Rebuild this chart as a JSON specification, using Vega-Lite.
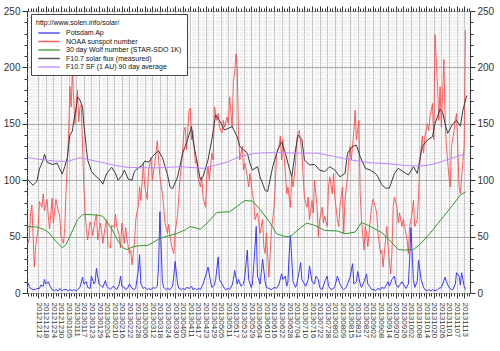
{
"$schema": "https://vega.github.io/schema/vega-lite/v6.json",
"width": 443, "height": 282,
"autosize": "none",
"padding": {"left": 27, "top": 11, "right": 30, "bottom": 58},
"background": "white",
"config": {"view": {"stroke": "#333", "strokeWidth": 1}, "font": "Liberation Sans", "axis": {"tickColor": "#333", "labelColor": "#333", "title": null, "domain": false}},
"datasets": {
"ap": [{"d":0,"v":9},{"d":1,"v":6},{"d":2,"v":4},{"d":4,"v":3},{"d":6,"v":3},{"d":7,"v":4},{"d":9,"v":4},{"d":10,"v":7},{"d":12,"v":6},{"d":13,"v":12},{"d":14,"v":8},{"d":16,"v":10},{"d":17,"v":7},{"d":19,"v":3},{"d":21,"v":2},{"d":22,"v":3},{"d":24,"v":2},{"d":25,"v":4},{"d":27,"v":2},{"d":28,"v":3},{"d":30,"v":3},{"d":32,"v":2},{"d":33,"v":3},{"d":35,"v":2},{"d":36,"v":3},{"d":38,"v":2},{"d":39,"v":3},{"d":41,"v":5},{"d":43,"v":14},{"d":44,"v":8},{"d":46,"v":10},{"d":47,"v":5},{"d":49,"v":4},{"d":50,"v":15},{"d":52,"v":8},{"d":53,"v":10},{"d":54,"v":22},{"d":56,"v":8},{"d":58,"v":6},{"d":59,"v":5},{"d":61,"v":11},{"d":62,"v":6},{"d":64,"v":4},{"d":65,"v":3},{"d":67,"v":6},{"d":69,"v":4},{"d":70,"v":3},{"d":72,"v":8},{"d":73,"v":15},{"d":74,"v":6},{"d":76,"v":5},{"d":77,"v":3},{"d":79,"v":5},{"d":80,"v":8},{"d":82,"v":4},{"d":84,"v":3},{"d":85,"v":5},{"d":87,"v":20},{"d":88,"v":34},{"d":89,"v":8},{"d":91,"v":4},{"d":92,"v":5},{"d":94,"v":3},{"d":95,"v":4},{"d":97,"v":3},{"d":99,"v":5},{"d":100,"v":4},{"d":102,"v":6},{"d":103,"v":25},{"d":104,"v":72},{"d":106,"v":10},{"d":107,"v":5},{"d":109,"v":3},{"d":110,"v":4},{"d":112,"v":3},{"d":114,"v":6},{"d":115,"v":15},{"d":116,"v":28},{"d":118,"v":8},{"d":119,"v":4},{"d":121,"v":3},{"d":122,"v":4},{"d":124,"v":3},{"d":125,"v":5},{"d":127,"v":4},{"d":129,"v":6},{"d":130,"v":3},{"d":132,"v":4},{"d":133,"v":3},{"d":135,"v":4},{"d":136,"v":3},{"d":138,"v":8},{"d":140,"v":15},{"d":142,"v":23},{"d":144,"v":10},{"d":145,"v":5},{"d":147,"v":7},{"d":148,"v":12},{"d":150,"v":32},{"d":151,"v":12},{"d":153,"v":8},{"d":155,"v":4},{"d":156,"v":3},{"d":158,"v":4},{"d":159,"v":3},{"d":161,"v":7},{"d":162,"v":12},{"d":163,"v":20},{"d":165,"v":8},{"d":166,"v":12},{"d":168,"v":6},{"d":170,"v":8},{"d":171,"v":15},{"d":173,"v":38},{"d":174,"v":12},{"d":176,"v":5},{"d":177,"v":8},{"d":179,"v":40},{"d":180,"v":59},{"d":181,"v":15},{"d":183,"v":8},{"d":184,"v":18},{"d":185,"v":30},{"d":187,"v":10},{"d":188,"v":5},{"d":190,"v":4},{"d":192,"v":3},{"d":193,"v":4},{"d":195,"v":5},{"d":196,"v":4},{"d":198,"v":8},{"d":200,"v":17},{"d":201,"v":12},{"d":203,"v":15},{"d":204,"v":6},{"d":205,"v":10},{"d":206,"v":35},{"d":207,"v":51},{"d":209,"v":10},{"d":211,"v":5},{"d":212,"v":8},{"d":214,"v":20},{"d":215,"v":27},{"d":216,"v":12},{"d":218,"v":8},{"d":219,"v":6},{"d":221,"v":12},{"d":222,"v":24},{"d":224,"v":10},{"d":226,"v":8},{"d":227,"v":15},{"d":229,"v":12},{"d":230,"v":5},{"d":232,"v":3},{"d":234,"v":10},{"d":236,"v":15},{"d":237,"v":6},{"d":239,"v":3},{"d":241,"v":4},{"d":242,"v":6},{"d":243,"v":10},{"d":244,"v":15},{"d":246,"v":8},{"d":248,"v":4},{"d":249,"v":3},{"d":251,"v":5},{"d":252,"v":8},{"d":254,"v":14},{"d":256,"v":26},{"d":257,"v":8},{"d":259,"v":10},{"d":260,"v":19},{"d":262,"v":8},{"d":263,"v":5},{"d":265,"v":10},{"d":267,"v":17},{"d":268,"v":8},{"d":270,"v":5},{"d":271,"v":3},{"d":273,"v":3},{"d":274,"v":2},{"d":276,"v":4},{"d":278,"v":3},{"d":279,"v":5},{"d":281,"v":4},{"d":282,"v":6},{"d":284,"v":10},{"d":285,"v":6},{"d":287,"v":12},{"d":289,"v":15},{"d":290,"v":8},{"d":292,"v":5},{"d":293,"v":7},{"d":295,"v":10},{"d":297,"v":6},{"d":298,"v":4},{"d":300,"v":8},{"d":301,"v":30},{"d":302,"v":58},{"d":304,"v":12},{"d":305,"v":5},{"d":307,"v":10},{"d":308,"v":29},{"d":310,"v":12},{"d":312,"v":5},{"d":313,"v":3},{"d":315,"v":2},{"d":316,"v":3},{"d":318,"v":2},{"d":319,"v":3},{"d":321,"v":2},{"d":323,"v":3},{"d":324,"v":4},{"d":326,"v":5},{"d":327,"v":8},{"d":329,"v":14},{"d":330,"v":10},{"d":332,"v":5},{"d":334,"v":3},{"d":335,"v":3},{"d":337,"v":8},{"d":338,"v":18},{"d":340,"v":15},{"d":341,"v":7},{"d":342,"v":18},{"d":344,"v":6},{"d":345,"v":3}],
"ssn": [{"d":0,"v":44},{"d":1,"v":48},{"d":2,"v":70},{"d":3,"v":78},{"d":5,"v":23},{"d":6,"v":41},{"d":8,"v":57},{"d":9,"v":81},{"d":11,"v":76},{"d":12,"v":88},{"d":13,"v":73},{"d":15,"v":83},{"d":16,"v":68},{"d":17,"v":57},{"d":19,"v":84},{"d":20,"v":62},{"d":22,"v":83},{"d":24,"v":72},{"d":25,"v":69},{"d":26,"v":50},{"d":28,"v":44},{"d":29,"v":58},{"d":30,"v":90},{"d":31,"v":115},{"d":32,"v":140},{"d":33,"v":183},{"d":34,"v":165},{"d":35,"v":196},{"d":37,"v":150},{"d":39,"v":180},{"d":40,"v":152},{"d":41,"v":165},{"d":42,"v":167},{"d":43,"v":130},{"d":44,"v":95},{"d":45,"v":70},{"d":46,"v":58},{"d":47,"v":47},{"d":49,"v":63},{"d":50,"v":59},{"d":51,"v":51},{"d":53,"v":65},{"d":54,"v":70},{"d":55,"v":47},{"d":57,"v":62},{"d":58,"v":55},{"d":59,"v":44},{"d":61,"v":60},{"d":62,"v":65},{"d":63,"v":42},{"d":65,"v":40},{"d":66,"v":60},{"d":68,"v":58},{"d":69,"v":70},{"d":70,"v":59},{"d":72,"v":50},{"d":73,"v":40},{"d":74,"v":62},{"d":76,"v":44},{"d":77,"v":58},{"d":78,"v":48},{"d":80,"v":35},{"d":81,"v":38},{"d":82,"v":25},{"d":84,"v":45},{"d":85,"v":65},{"d":86,"v":72},{"d":87,"v":77},{"d":88,"v":94},{"d":89,"v":82},{"d":91,"v":115},{"d":92,"v":95},{"d":94,"v":83},{"d":95,"v":108},{"d":97,"v":120},{"d":98,"v":100},{"d":100,"v":115},{"d":102,"v":135},{"d":103,"v":118},{"d":104,"v":103},{"d":106,"v":88},{"d":107,"v":76},{"d":108,"v":62},{"d":110,"v":53},{"d":111,"v":61},{"d":112,"v":50},{"d":114,"v":38},{"d":115,"v":35},{"d":116,"v":53},{"d":118,"v":70},{"d":119,"v":88},{"d":120,"v":103},{"d":121,"v":112},{"d":123,"v":144},{"d":124,"v":147},{"d":125,"v":127},{"d":127,"v":162},{"d":128,"v":164},{"d":129,"v":136},{"d":130,"v":144},{"d":132,"v":115},{"d":133,"v":118},{"d":134,"v":103},{"d":136,"v":94},{"d":137,"v":103},{"d":138,"v":85},{"d":140,"v":76},{"d":141,"v":103},{"d":142,"v":112},{"d":143,"v":100},{"d":145,"v":124},{"d":146,"v":118},{"d":147,"v":165},{"d":149,"v":153},{"d":150,"v":159},{"d":151,"v":147},{"d":153,"v":142},{"d":154,"v":153},{"d":155,"v":147},{"d":157,"v":156},{"d":158,"v":150},{"d":159,"v":174},{"d":161,"v":147},{"d":162,"v":189},{"d":163,"v":195},{"d":164,"v":212},{"d":165,"v":200},{"d":166,"v":144},{"d":167,"v":118},{"d":169,"v":130},{"d":170,"v":109},{"d":171,"v":115},{"d":173,"v":103},{"d":174,"v":94},{"d":175,"v":106},{"d":177,"v":88},{"d":178,"v":82},{"d":179,"v":65},{"d":181,"v":71},{"d":182,"v":62},{"d":183,"v":53},{"d":185,"v":65},{"d":186,"v":41},{"d":187,"v":35},{"d":188,"v":53},{"d":190,"v":14},{"d":191,"v":35},{"d":192,"v":55},{"d":194,"v":76},{"d":195,"v":94},{"d":196,"v":124},{"d":198,"v":130},{"d":199,"v":139},{"d":200,"v":118},{"d":201,"v":136},{"d":203,"v":106},{"d":204,"v":88},{"d":205,"v":94},{"d":207,"v":76},{"d":208,"v":103},{"d":209,"v":94},{"d":211,"v":115},{"d":212,"v":136},{"d":213,"v":142},{"d":214,"v":144},{"d":216,"v":124},{"d":217,"v":103},{"d":218,"v":85},{"d":220,"v":76},{"d":221,"v":85},{"d":222,"v":65},{"d":224,"v":82},{"d":225,"v":71},{"d":226,"v":100},{"d":228,"v":76},{"d":229,"v":50},{"d":230,"v":65},{"d":232,"v":76},{"d":233,"v":62},{"d":234,"v":68},{"d":236,"v":59},{"d":237,"v":94},{"d":238,"v":103},{"d":240,"v":88},{"d":241,"v":106},{"d":242,"v":85},{"d":244,"v":65},{"d":245,"v":59},{"d":246,"v":76},{"d":248,"v":94},{"d":249,"v":53},{"d":250,"v":82},{"d":252,"v":103},{"d":253,"v":118},{"d":254,"v":130},{"d":255,"v":118},{"d":257,"v":144},{"d":258,"v":162},{"d":259,"v":136},{"d":261,"v":153},{"d":262,"v":88},{"d":263,"v":65},{"d":265,"v":38},{"d":266,"v":59},{"d":267,"v":53},{"d":268,"v":41},{"d":270,"v":65},{"d":271,"v":76},{"d":272,"v":83},{"d":274,"v":76},{"d":275,"v":71},{"d":276,"v":53},{"d":278,"v":35},{"d":279,"v":38},{"d":280,"v":23},{"d":282,"v":47},{"d":283,"v":59},{"d":284,"v":41},{"d":286,"v":17},{"d":287,"v":35},{"d":288,"v":76},{"d":289,"v":85},{"d":291,"v":76},{"d":292,"v":62},{"d":293,"v":71},{"d":295,"v":59},{"d":296,"v":65},{"d":297,"v":59},{"d":299,"v":47},{"d":300,"v":35},{"d":301,"v":59},{"d":303,"v":71},{"d":304,"v":82},{"d":305,"v":59},{"d":307,"v":65},{"d":308,"v":85},{"d":309,"v":115},{"d":311,"v":139},{"d":312,"v":124},{"d":313,"v":139},{"d":315,"v":150},{"d":316,"v":144},{"d":317,"v":156},{"d":319,"v":168},{"d":320,"v":136},{"d":321,"v":229},{"d":323,"v":183},{"d":324,"v":153},{"d":325,"v":183},{"d":326,"v":147},{"d":328,"v":207},{"d":329,"v":153},{"d":330,"v":130},{"d":332,"v":103},{"d":333,"v":94},{"d":334,"v":130},{"d":336,"v":144},{"d":337,"v":153},{"d":338,"v":159},{"d":340,"v":94},{"d":341,"v":88},{"d":342,"v":103},{"d":344,"v":130},{"d":345,"v":233}],
"wolf": [{"d":0,"v":58.8},{"d":7,"v":58.5},{"d":11,"v":57},{"d":13,"v":56},{"d":17,"v":53},{"d":21,"v":47},{"d":27,"v":40},{"d":30,"v":43},{"d":35,"v":55},{"d":39,"v":65},{"d":43,"v":69.5},{"d":49,"v":69.5},{"d":55,"v":69},{"d":59,"v":68},{"d":63,"v":62},{"d":67,"v":55},{"d":71,"v":46},{"d":75,"v":40},{"d":78,"v":38.5},{"d":83,"v":41},{"d":88,"v":42},{"d":94,"v":42},{"d":99,"v":45},{"d":104,"v":48.5},{"d":112,"v":51},{"d":118,"v":53},{"d":124,"v":56},{"d":128,"v":59},{"d":136,"v":56.5},{"d":142,"v":63},{"d":149,"v":71.5},{"d":159,"v":72},{"d":165,"v":77},{"d":171,"v":82},{"d":177,"v":81.5},{"d":183,"v":74},{"d":191,"v":62},{"d":196,"v":52.5},{"d":203,"v":50},{"d":207,"v":50},{"d":215,"v":58},{"d":220,"v":62},{"d":226,"v":60},{"d":234,"v":55.5},{"d":244,"v":55},{"d":250,"v":52.5},{"d":258,"v":54},{"d":263,"v":62.5},{"d":270,"v":59},{"d":279,"v":53.5},{"d":285,"v":47},{"d":292,"v":38.5},{"d":297,"v":38},{"d":304,"v":38.5},{"d":309,"v":43},{"d":315,"v":50},{"d":325,"v":64},{"d":335,"v":78},{"d":341,"v":87},{"d":345,"v":89.5}],
"flux": [{"d":0,"v":100},{"d":4,"v":95.5},{"d":7,"v":99},{"d":9,"v":110},{"d":12,"v":118},{"d":13,"v":123},{"d":15,"v":116},{"d":19,"v":114},{"d":23,"v":115},{"d":25,"v":110},{"d":27,"v":105.5},{"d":29,"v":112},{"d":31,"v":120},{"d":33,"v":140},{"d":35,"v":143.5},{"d":36,"v":152},{"d":38,"v":164},{"d":39,"v":174},{"d":41,"v":171},{"d":43,"v":165},{"d":44,"v":150},{"d":46,"v":129},{"d":47,"v":118},{"d":50,"v":108},{"d":53,"v":104},{"d":57,"v":100},{"d":59,"v":96.5},{"d":62,"v":106},{"d":66,"v":111.5},{"d":69,"v":106},{"d":71,"v":100},{"d":74,"v":104},{"d":76,"v":109},{"d":79,"v":101},{"d":82,"v":100},{"d":84,"v":108},{"d":87,"v":111},{"d":90,"v":113},{"d":92,"v":117},{"d":95,"v":116},{"d":99,"v":122},{"d":103,"v":126},{"d":106,"v":120},{"d":110,"v":105},{"d":112,"v":94},{"d":114,"v":92.5},{"d":118,"v":103},{"d":122,"v":124},{"d":125,"v":133},{"d":129,"v":147.5},{"d":130,"v":136},{"d":133,"v":118},{"d":136,"v":100},{"d":138,"v":103},{"d":142,"v":118},{"d":145,"v":136},{"d":148,"v":158},{"d":151,"v":153},{"d":155,"v":144.5},{"d":161,"v":147.5},{"d":165,"v":138.6},{"d":167,"v":130},{"d":170,"v":127},{"d":173,"v":124},{"d":175,"v":115},{"d":177,"v":109},{"d":181,"v":112},{"d":183,"v":103},{"d":187,"v":91},{"d":189,"v":90},{"d":193,"v":112},{"d":197,"v":127},{"d":200,"v":134},{"d":203,"v":124},{"d":205,"v":115},{"d":208,"v":103},{"d":211,"v":127},{"d":213,"v":140},{"d":216,"v":136},{"d":218,"v":118},{"d":222,"v":113.5},{"d":226,"v":114},{"d":230,"v":109},{"d":234,"v":107.5},{"d":238,"v":112},{"d":242,"v":109},{"d":246,"v":103},{"d":250,"v":106},{"d":252,"v":124},{"d":256,"v":130},{"d":259,"v":131},{"d":262,"v":121},{"d":266,"v":110.5},{"d":270,"v":109},{"d":274,"v":106},{"d":276,"v":103},{"d":279,"v":96},{"d":282,"v":93},{"d":285,"v":93},{"d":289,"v":106},{"d":292,"v":110.5},{"d":296,"v":107.5},{"d":300,"v":104.6},{"d":304,"v":112},{"d":307,"v":106},{"d":311,"v":130},{"d":315,"v":135.6},{"d":319,"v":138.6},{"d":321,"v":150},{"d":325,"v":163},{"d":327,"v":160},{"d":329,"v":150},{"d":331,"v":141.6},{"d":335,"v":150},{"d":338,"v":153},{"d":341,"v":148},{"d":343,"v":162},{"d":346,"v":175}],
"avg": [{"d":0,"v":120},{"d":9,"v":118.5},{"d":21,"v":117},{"d":31,"v":116.5},{"d":41,"v":120},{"d":49,"v":118},{"d":57,"v":116},{"d":69,"v":113},{"d":78,"v":111.5},{"d":88,"v":111},{"d":104,"v":111},{"d":120,"v":112},{"d":138,"v":110.5},{"d":147,"v":113},{"d":157,"v":116},{"d":167,"v":121},{"d":179,"v":123.8},{"d":193,"v":124.5},{"d":215,"v":124},{"d":228,"v":124},{"d":242,"v":121},{"d":254,"v":118},{"d":270,"v":115.5},{"d":285,"v":114.5},{"d":297,"v":113},{"d":309,"v":112.5},{"d":317,"v":113.5},{"d":325,"v":116},{"d":337,"v":120.5},{"d":345,"v":123.5}]
},
"resolve": {"axis": {"x": "independent", "y": "independent"}},
"layer": [
{"data": {"name": "ap"}, "mark": {"type": "line", "strokeWidth": 1},
 "encoding": {
  "x": {"field": "d", "type": "quantitative", "scale": {"domain": [-0.8, 348.6], "nice": false, "zero": false},
        "axis": {"orient": "bottom", "tickCount": 350, "labels": false, "ticks": false, "domain": false, "grid": true, "gridColor": "#e2e2e2", "gridDash": [1, 2], "title": null}},
  "y": {"field": "v", "type": "quantitative", "scale": {"domain": [0, 250], "nice": false},
        "axis": {"orient": "left", "tickCount": 50, "labels": false, "ticks": false, "domain": false, "grid": true, "gridColor": "#dcdcdc", "gridDash": [1, 2], "title": null}},
  "color": {"datum": "Potsdam Ap", "type": "nominal",
   "scale": {"domain": ["Potsdam Ap", "NOAA sunspot number", "30 day Wolf number (STAR-SDO 1K)", "F10.7 solar flux (measured)", "F10.7 SF (1 AU) 90 day average"], "range": ["#3a3aff", "#ff4444", "#2f9a2f", "#3c3c3c", "#c084ff"]},
   "legend": {"orient": "none", "legendX": 4, "legendY": 3, "title": "http://www.solen.info/solar/", "titleFontSize": 7, "titleFontWeight": "normal", "titleColor": "#111", "titlePadding": 2, "labelFontSize": 7, "labelColor": "#111", "symbolType": "M-2.7,0H2.7", "symbolSize": 64, "symbolStrokeWidth": 1.5, "symbolOffset": 8, "labelOffset": 12, "rowPadding": 0.5, "padding": 5, "fillColor": "white", "strokeColor": "#444"}}
 }},
{"data": {"name": "ssn"}, "mark": {"type": "line", "strokeWidth": 1, "opacity": 0.85},
 "encoding": {
  "x": {"field": "d", "type": "quantitative", "scale": {"domain": [-0.8, 348.6], "nice": false, "zero": false},
        "axis": {"orient": "bottom", "values": [8,14,20,26,32,38,44,50,56,62,68,74,80,86,92,98,104,110,116,122,128,134,140,146,152,158,164,170,176,182,188,194,200,206,212,218,224,230,236,242,248,254,260,266,272,278,284,290,296,302,308,314,320,326,332,338,344],
                 "labelExpr": "utcFormat(datum.value * 86400000 + 1354579200000, '%Y%m%d')", "labelAngle": 90, "labelAlign": "left", "labelBaseline": "middle", "labelFontSize": 8, "labelPadding": 4, "labelOverlap": false, "labelFlush": false, "tickSize": 5, "domain": false, "grid": true, "gridColor": "#c8c8c8", "title": null}},
  "y": {"field": "v", "type": "quantitative", "scale": {"domain": [0, 250], "nice": false},
        "axis": {"orient": "left", "values": [0, 50, 100, 150, 200, 250], "labelFontSize": 10, "labelPadding": 2, "tickSize": 5, "domain": false, "grid": true, "gridColor": "#aaaaaa", "title": null}},
  "color": {"datum": "NOAA sunspot number", "type": "nominal"}
 }},
{"data": {"name": "wolf"}, "mark": {"type": "line", "strokeWidth": 1},
 "encoding": {
  "x": {"field": "d", "type": "quantitative", "scale": {"domain": [-0.8, 348.6], "nice": false, "zero": false},
        "axis": {"orient": "bottom", "tickCount": 175, "labels": false, "tickSize": 3, "domain": false, "grid": false, "title": null}},
  "y": {"field": "v", "type": "quantitative", "scale": {"domain": [0, 250], "nice": false},
        "axis": {"orient": "left", "tickCount": 25, "labels": false, "tickSize": 3, "domain": false, "grid": false, "title": null}},
  "color": {"datum": "30 day Wolf number (STAR-SDO 1K)", "type": "nominal"}
 }},
{"data": {"name": "flux"}, "mark": {"type": "line", "strokeWidth": 1},
 "encoding": {
  "x": {"field": "d", "type": "quantitative", "scale": {"domain": [-0.8, 348.6], "nice": false, "zero": false},
        "axis": {"orient": "top", "values": [8,14,20,26,32,38,44,50,56,62,68,74,80,86,92,98,104,110,116,122,128,134,140,146,152,158,164,170,176,182,188,194,200,206,212,218,224,230,236,242,248,254,260,266,272,278,284,290,296,302,308,314,320,326,332,338,344], "labels": false, "tickSize": 5, "domain": false, "grid": false, "title": null}},
  "y": {"field": "v", "type": "quantitative", "scale": {"domain": [0, 250], "nice": false},
        "axis": {"orient": "right", "values": [0, 50, 100, 150, 200, 250], "labelFontSize": 10, "labelPadding": 2, "tickSize": 5, "domain": false, "grid": false, "title": null}},
  "color": {"datum": "F10.7 solar flux (measured)", "type": "nominal"}
 }},
{"data": {"name": "avg"}, "mark": {"type": "line", "strokeWidth": 1},
 "encoding": {
  "x": {"field": "d", "type": "quantitative", "scale": {"domain": [-0.8, 348.6], "nice": false, "zero": false},
        "axis": {"orient": "top", "tickCount": 175, "labels": false, "tickSize": 3, "domain": false, "grid": false, "title": null}},
  "y": {"field": "v", "type": "quantitative", "scale": {"domain": [0, 250], "nice": false},
        "axis": {"orient": "right", "tickCount": 25, "labels": false, "tickSize": 3, "domain": false, "grid": false, "title": null}},
  "color": {"datum": "F10.7 SF (1 AU) 90 day average", "type": "nominal"}
 }}
]
}
